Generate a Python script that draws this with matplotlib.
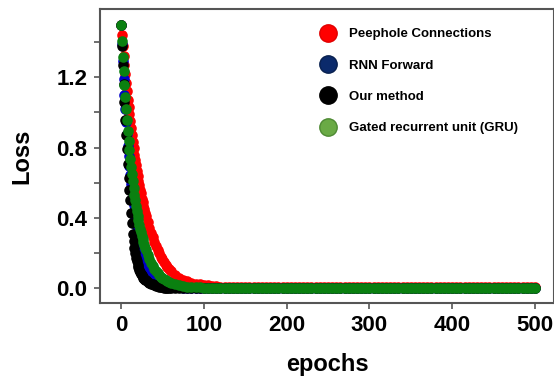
import matplotlib.pyplot as plt
from matplotlib.lines import Line2D

plt.rcParams['font.family'] = ['Liberation Sans', 'DejaVu Sans']
plt.rcParams['font.weight'] = 'bold'

# epochs sampled: every epoch up to 30, every 2 up to 60, every 5 after
epochs = list(range(0, 31)) + list(range(32, 61, 2)) + list(range(65, 501, 5))

peephole = ([1.50, 1.44, 1.38, 1.32, 1.27, 1.22, 1.17, 1.12, 1.07, 1.03, 0.99,
             0.95, 0.91, 0.87, 0.83, 0.80, 0.76, 0.73, 0.70, 0.67, 0.64,
             0.61, 0.59, 0.56, 0.54, 0.51, 0.49, 0.47, 0.45, 0.43, 0.41]
            + [0.375, 0.345, 0.315, 0.29, 0.265, 0.24, 0.22, 0.20, 0.18,
               0.165, 0.15, 0.135, 0.122, 0.11, 0.10]
            + [0.078, 0.062, 0.05, 0.04, 0.033, 0.028, 0.024, 0.021, 0.018,
               0.015, 0.013, 0.011, 0.010, 0.009]
            + [0.008] * 74)

rnn_forward = ([1.50, 1.39, 1.29, 1.19, 1.10, 1.02, 0.946, 0.876, 0.811, 0.751,
                0.695, 0.644, 0.596, 0.552, 0.511, 0.473, 0.438, 0.406, 0.376,
                0.348, 0.322, 0.298, 0.276, 0.256, 0.237, 0.219, 0.203, 0.188,
                0.174, 0.161, 0.149]
               + [0.128, 0.110, 0.094, 0.080, 0.069, 0.059, 0.051, 0.043,
                  0.037, 0.032, 0.027, 0.023, 0.020, 0.017, 0.015]
               + [0.010, 0.007, 0.005, 0.004, 0.003, 0.003, 0.002, 0.002,
                  0.002, 0.002, 0.002, 0.002, 0.002, 0.002]
               + [0.002] * 74)

our_method = ([1.50, 1.38, 1.27, 1.16, 1.06, 0.96, 0.87, 0.79, 0.71, 0.63, 0.56,
               0.50, 0.43, 0.37, 0.31, 0.27, 0.23, 0.20, 0.175, 0.155, 0.135,
               0.12, 0.105, 0.095, 0.085, 0.076, 0.068, 0.061, 0.055, 0.05,
               0.046]
              + [0.039, 0.033, 0.028, 0.024, 0.02, 0.016, 0.013, 0.01, 0.008,
                 0.006, 0.005, 0.004, 0.003, 0.002, 0.001]
              + [0.001, 0.0, 0.0, 0.0, 0.0, 0.0, 0.0, 0.0, 0.0, 0.0, 0.0, 0.0,
                 0.0, 0.0]
              + [0.0] * 74)

gru = ([1.50, 1.406, 1.318, 1.236, 1.159, 1.086, 1.018, 0.955, 0.895, 0.839,
        0.787, 0.738, 0.691, 0.648, 0.608, 0.570, 0.534, 0.501, 0.469, 0.440,
        0.413, 0.387, 0.363, 0.340, 0.319, 0.299, 0.280, 0.263, 0.246, 0.231,
        0.216]
       + [0.190, 0.167, 0.147, 0.129, 0.113, 0.100, 0.088, 0.077, 0.068,
          0.060, 0.052, 0.046, 0.041, 0.036, 0.031]
       + [0.025, 0.018, 0.014, 0.011, 0.008, 0.007, 0.006, 0.005, 0.004,
          0.003, 0.003, 0.002, 0.002, 0.002]
       + [0.002] * 74)

labels = ['Peephole Connections', 'RNN Forward', 'Our method',
          'Gated recurrent unit (GRU)']

fig = plt.figure(figsize=(5.54, 3.82), dpi=100)
ax = fig.add_axes([0.1805, 0.207, 0.8195, 0.7694])

ax.scatter(epochs, peephole, s=58, color='#ff0000', linewidths=0)
ax.scatter(epochs, rnn_forward, s=58, color='#0000c8', linewidths=0)
ax.scatter(epochs, our_method, s=58, color='#000000', linewidths=0)
ax.scatter(epochs, gru, s=58, color='#0a8010', linewidths=0)

ax.set_xlim(-25.5, 523)
ax.set_ylim(-0.082, 1.588)
ax.set_xticks([0, 100, 200, 300, 400, 500])
ax.set_yticks([0.0, 0.4, 0.8, 1.2])
ax.set_yticks([0.2, 0.6, 1.0, 1.4], minor=True)
ax.set_yticklabels(['0.0', '0.4', '0.8', '1.2'])
ax.tick_params(axis='both', which='both', direction='out', length=4,
               width=1.2, color='#555555', labelsize=16)
ax.tick_params(axis='y', pad=5)
ax.tick_params(axis='x', pad=5)
for side in ['left', 'bottom', 'top', 'right']:
    ax.spines[side].set_color('#555555')
    ax.spines[side].set_linewidth(1.5)

ax.set_xlabel('epochs', fontsize=17, fontweight='bold', labelpad=12)
ax.set_ylabel('Loss', fontsize=17, fontweight='bold', labelpad=17)

# legend with slightly different swatch colours than the markers
handles = [
    Line2D([], [], marker='o', linestyle='', markersize=12.5,
           markerfacecolor='#ff0000', markeredgecolor='#e00000'),
    Line2D([], [], marker='o', linestyle='', markersize=12.5,
           markerfacecolor='#0b2a6b', markeredgecolor='#08204f'),
    Line2D([], [], marker='o', linestyle='', markersize=12.5,
           markerfacecolor='#000000', markeredgecolor='#000000'),
    Line2D([], [], marker='o', linestyle='', markersize=12.5,
           markerfacecolor='#6aaa45', markeredgecolor='#4e8a33'),
]
ax.legend(handles, labels, loc='upper left', bbox_to_anchor=(0.468, 0.958),
          frameon=False, prop={'weight': 'bold', 'size': 9.5},
          labelspacing=1.45, handlelength=1.4, handletextpad=0.85,
          borderpad=0)

plt.savefig('out.png', dpi=100)
